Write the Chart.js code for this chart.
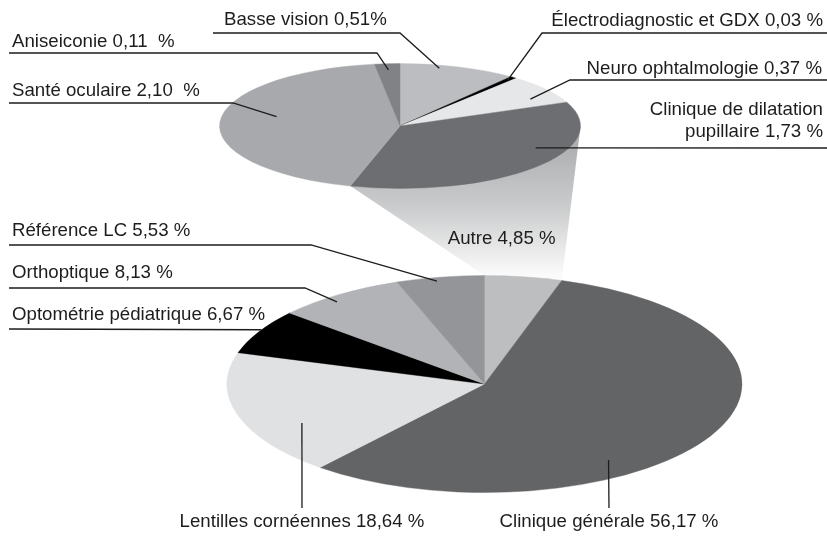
<!DOCTYPE html>
<html lang="fr">
<head>
<meta charset="utf-8">
<title>Répartition des consultations</title>
<script src="https://cdn.jsdelivr.net/npm/chart.js@4/dist/chart.umd.min.js"></script>
<style>
  html, body { margin: 0; background: #fff; }
  #cadre { position: relative; width: 827px; height: 536px; overflow: hidden;
           font-family: 'Liberation Sans', Arial, Helvetica, sans-serif; }
  #cadre canvas { position: absolute; left: 0; top: 0; }
  .etiquette { position: absolute; font-size: 18.67px; line-height: 22px; color: #1d1d1d; white-space: pre; }
</style>
</head>
<body>
<div id="cadre">
  <canvas id="pieBas" width="827" height="536"></canvas>
  <canvas id="pieHaut" width="827" height="536"></canvas>
</div>
<script>
// Petit camembert : detail de la part "Autre"
const categoriesHaut = ['Basse vision', 'Électrodiagnostic et GDX', 'Neuro ophtalmologie',
                        'Clinique de dilatation pupillaire', 'Santé oculaire', 'Aniseiconie'];
const valeursHaut = [0.51, 0.03, 0.37, 1.73, 2.10, 0.11];
const suffixesHaut = ['%', ' %', ' %', ' %', '  %', '  %'];

// Grand camembert
const categoriesBas = ['Autre', 'Clinique générale', 'Lentilles cornéennes',
                       'Optométrie pédiatrique', 'Orthoptique', 'Référence LC'];
const valeursBas = [4.85, 56.17, 18.64, 6.67, 8.13, 5.53];

const couleursHaut = ['#bcbdc0', '#000000', '#e6e7e8', '#6d6e71', '#a7a9ac', '#808285'];
const couleursBas  = ['#bcbec0', '#636466', '#e0e1e3', '#000000', '#b1b3b6', '#939598'];

// Centre et rayons des ellipses (cercle aplati)
const GEO_HAUT = { cx: 400,   cy: 126, rx: 180.5, ry: 62.5 };
const GEO_BAS  = { cx: 484.5, cy: 384, rx: 257.5, ry: 108.5 };
const W = 827, H = 536;

// Placement des etiquettes et des traits de rappel (t = position dans la part, f = fraction du rayon)
const reperesHaut = [
  { x: 224, y: 7.5, ligne: [[213, 33], [400, 33]], t: 0.35, f: 0.95 },
  { droite: 4, y: 9.2, ligne: [[827, 33], [542, 33]], t: 0.5, f: 0.95 },
  { droite: 5, y: 56.5, ligne: [[827, 80], [570, 80]], t: 0.7, f: 0.84 },
  { droite: 4, y: 97.5, largeur: 215, ligne: [[827, 148]], t: 0.37, f: 0.83 },
  { x: 12, y: 78.5, ligne: [[9, 103], [233, 103]], t: 0.554, f: 0.70 },
  { x: 12, y: 29.5, ligne: [[9, 53], [377, 53]], t: 0.5, f: 0.9 }
];
const reperesBas = [
  { x: 447.7, y: 226.5 },
  { centre: 609, y: 510, ligne: [[609, 508]], t: 0.633, f: 0.85 },
  { centre: 302, y: 510, ligne: [[302, 508]], t: 0.349, f: 0.795 },
  { x: 12, y: 302.5, ligne: [[9, 329]], t: 0.55, f: 1.0 },
  { x: 12, y: 261, ligne: [[9, 288], [305, 288]], t: 0.413, f: 0.95 },
  { x: 12, y: 219, ligne: [[9, 245], [311, 245]], t: 0.447, f: 0.967 }
];

const fmt = (v) => v.toFixed(2).replace('.', ',');

// Point dans une part, en tenant compte de l'aplatissement
function pointArc(chart, geo, i, t, f) {
  const a = chart.getDatasetMeta(0).data[i];
  const ang = a.startAngle + t * (a.endAngle - a.startAngle);
  const r = f * a.outerRadius;
  return [a.x + r * Math.cos(ang), a.y + (geo.ry / geo.rx) * r * Math.sin(ang)];
}

function pluginEllipse(geo) {
  return {
    id: 'ellipse',
    beforeDatasetsDraw(chart) {
      const ctx = chart.ctx;
      ctx.save();
      ctx.translate(geo.cx, geo.cy);
      ctx.scale(1, geo.ry / geo.rx);
      ctx.translate(-geo.cx, -geo.cy);
    },
    afterDatasetsDraw(chart) { chart.ctx.restore(); }
  };
}

function pluginReperes(geo, reperes) {
  return {
    id: 'reperes',
    afterDraw(chart) {
      const ctx = chart.ctx;
      ctx.save();
      ctx.strokeStyle = '#1d1d1d';
      ctx.lineWidth = 1.3;
      reperes.forEach((r, i) => {
        if (!r.ligne) return;
        const fin = pointArc(chart, geo, i, r.t, r.f);
        ctx.beginPath();
        ctx.moveTo(r.ligne[0][0], r.ligne[0][1]);
        r.ligne.slice(1).forEach(p => ctx.lineTo(p[0], p[1]));
        ctx.lineTo(fin[0], fin[1]);
        ctx.stroke();
      });
      ctx.restore();
    }
  };
}

function padding(geo) {
  return {
    left: Math.max(2 * geo.cx - W, 0), right: Math.max(W - 2 * geo.cx, 0),
    top: Math.max(2 * geo.cy - H, 0), bottom: Math.max(H - 2 * geo.cy, 0)
  };
}

function configPie(labels, valeurs, couleurs, geo, plugins) {
  return {
    type: 'pie',
    data: { labels, datasets: [{ data: valeurs, backgroundColor: couleurs,
      borderColor: couleurs, borderWidth: 0.6, clip: false }] },
    options: {
      responsive: false, animation: false, events: [],
      radius: geo.rx,
      layout: { padding: padding(geo) },
      plugins: { legend: { display: false }, tooltip: { enabled: false } }
    },
    plugins
  };
}

const graphHaut = new Chart(document.getElementById('pieHaut'),
  configPie(categoriesHaut, valeursHaut, couleursHaut, GEO_HAUT,
    [pluginEllipse(GEO_HAUT), pluginReperes(GEO_HAUT, reperesHaut)]));

// Liaison en degrade entre le petit camembert et la part "Autre"
const connecteur = {
  id: 'connecteur',
  beforeDatasetsDraw(chart) {
    const ctx = chart.ctx;
    const a = pointArc(graphHaut, GEO_HAUT, 3, 1, 1);
    const b = [GEO_HAUT.cx + GEO_HAUT.rx, GEO_HAUT.cy];
    const c = pointArc(chart, GEO_BAS, 0, 1, 1);
    const d = pointArc(chart, GEO_BAS, 0, 0, 1);
    const grad = ctx.createLinearGradient(0, GEO_HAUT.cy, 0, d[1]);
    grad.addColorStop(0, '#a6a7aa');
    grad.addColorStop(0.55, '#cbcccd');
    grad.addColorStop(1, '#fbfbfb');
    ctx.save();
    ctx.fillStyle = grad;
    ctx.beginPath();
    ctx.moveTo(a[0], a[1]);
    ctx.lineTo(b[0], b[1]);
    ctx.lineTo(c[0], c[1]);
    ctx.lineTo(d[0], d[1]);
    ctx.closePath();
    ctx.fill();
    ctx.restore();
  }
};

const graphBas = new Chart(document.getElementById('pieBas'),
  configPie(categoriesBas, valeursBas, couleursBas, GEO_BAS,
    [connecteur, pluginEllipse(GEO_BAS), pluginReperes(GEO_BAS, reperesBas)]));

// Etiquettes en texte
function poserEtiquettes(categories, valeurs, suffixes, reperes) {
  const cadre = document.getElementById('cadre');
  categories.forEach((nom, i) => {
    const r = reperes[i];
    const el = document.createElement('div');
    el.className = 'etiquette';
    el.textContent = nom + ' ' + fmt(valeurs[i]) + (suffixes ? suffixes[i] : ' %');
    el.style.top = r.y + 'px';
    if (r.droite !== undefined) { el.style.right = r.droite + 'px'; el.style.textAlign = 'right'; }
    else if (r.centre !== undefined) { el.style.left = r.centre + 'px'; el.style.transform = 'translateX(-50%)'; }
    else el.style.left = r.x + 'px';
    if (r.largeur) { el.style.width = r.largeur + 'px'; el.style.whiteSpace = 'normal'; }
    cadre.appendChild(el);
  });
}
poserEtiquettes(categoriesHaut, valeursHaut, suffixesHaut, reperesHaut);
poserEtiquettes(categoriesBas, valeursBas, null, reperesBas);
</script>
</body>
</html>
